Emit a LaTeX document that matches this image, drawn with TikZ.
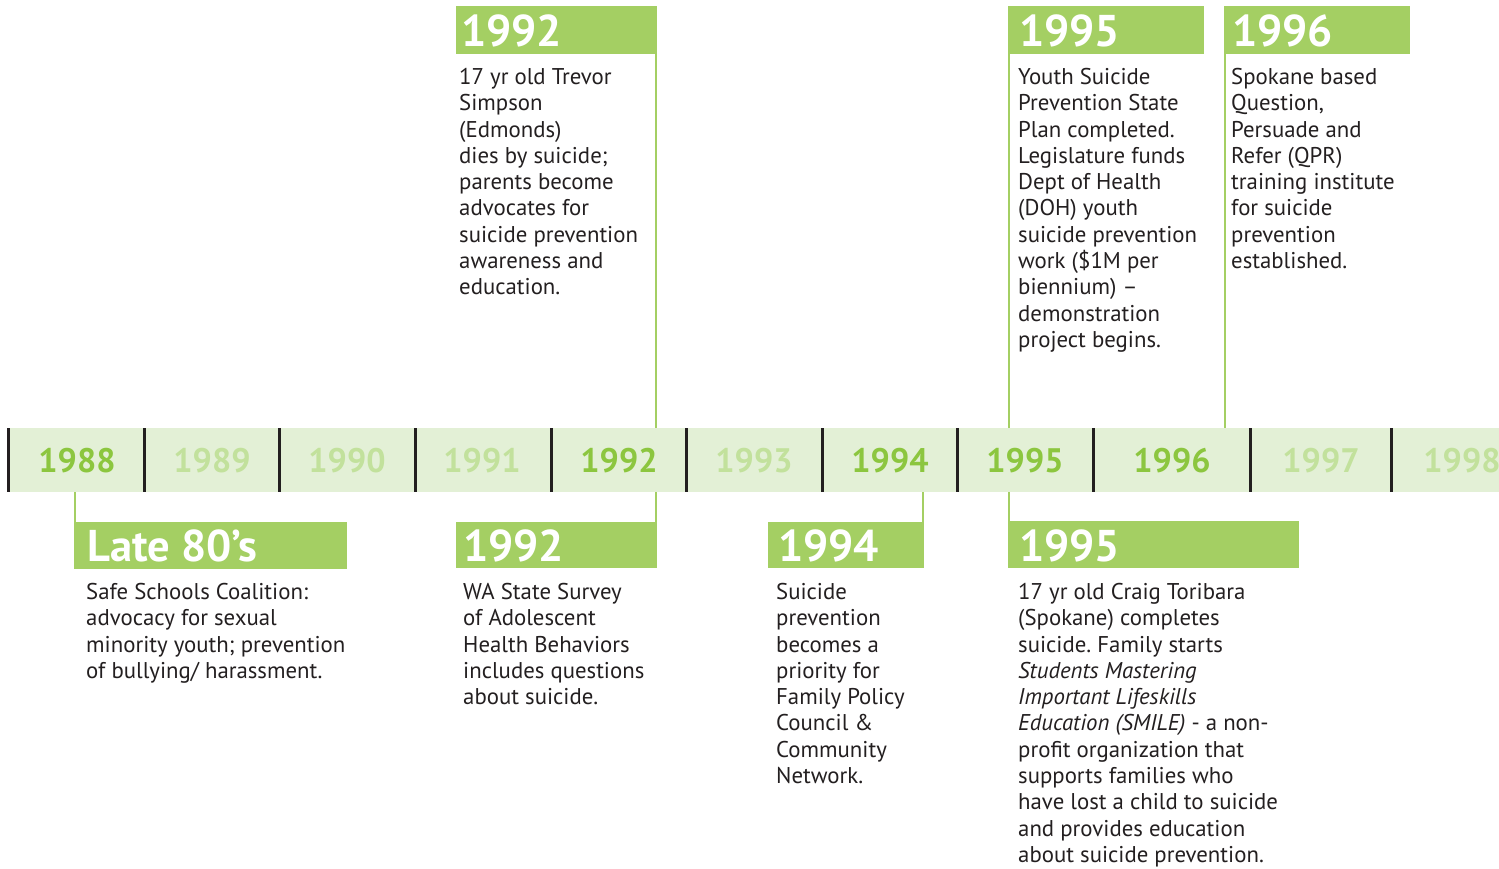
\documentclass[tikz,border=0pt]{standalone}
\usepackage{fontspec}
\setmainfont{PT Sans}
\frenchspacing
\definecolor{barfill}{HTML}{E3F0D6}
\definecolor{hgreen}{HTML}{A4CF63}
\definecolor{yon}{HTML}{8CC63F}
\definecolor{yoff}{HTML}{C2E19C}
\definecolor{ink}{HTML}{231F20}
\tikzset{
  hbox/.style={fill=hgreen, draw=none, anchor=north west, inner sep=0pt},
  htext/.style={text=white, font=\fontsize{44.5}{44.5}\selectfont\bfseries, anchor=west, inner sep=0pt},
  body/.style={text=ink, font=\fontsize{22.8}{26.3}\selectfont, anchor=north west, inner sep=0pt, align=left},
  yrlab/.style={font=\fontsize{34}{34}\selectfont\bfseries, inner sep=0pt},
  on/.style={yrlab, text=yon},
  off/.style={yrlab, text=yoff},
  sep/.style={draw=ink, line width=3pt},
  conn/.style={draw=hgreen, line width=2pt},
}
\begin{document}
\begin{tikzpicture}[x=1pt,y=-1pt]
\useasboundingbox (0,0) rectangle (1499,868);
% bar
\node[fill=barfill, draw=none, anchor=north west, inner sep=0pt, minimum width=1491, minimum height=64] (bar) at (8,428) {};
\foreach \x in {8,144,279,415,551,686,822,957,1093,1250,1391}
  \draw[sep] (\x,428) -- (\x,492);
\node[on]  (c1988) at (77,461) {1988};
\node[off] (c1989) at (212,461) {1989};
\node[off] (c1990) at (347,461) {1990};
\node[off] (c1991) at (482,461) {1991};
\node[on]  (c1992) at (619,461) {1992};
\node[off] (c1993) at (754,461) {1993};
\node[on]  (c1994) at (890,461) {1994};
\node[on]  (c1995) at (1025,461) {1995};
\node[on]  (c1996) at (1172,461) {1996};
\node[off] (c1997) at (1321,461) {1997};
\node[off] (c1998) at (1462,461) {1998};
% header boxes top
\node[hbox, minimum width=201, minimum height=48] (h92a) at (456,6) {};
\node[htext] (t92a) at (461,31) {1992};
\node[hbox, minimum width=196, minimum height=48] (h95a) at (1008,6) {};
\node[htext] (t95a) at (1019,31) {1995};
\node[hbox, minimum width=186, minimum height=48] (h96a) at (1224,6) {};
\node[htext] (t96a) at (1232,31) {1996};
% header boxes bottom
\node[hbox, minimum width=273, minimum height=47] (hlate) at (74,522) {};
\node[htext] (tlate) at (87,546) {Late 80’s};
\node[hbox, minimum width=201, minimum height=46] (h92b) at (456,522) {};
\node[htext] (t92b) at (463,546) {1992};
\node[hbox, minimum width=156, minimum height=46] (h94) at (768,522) {};
\node[htext] (t94) at (778,546) {1994};
\node[hbox, minimum width=291, minimum height=47] (h95b) at (1008,521) {};
\node[htext] (t95b) at (1019,546) {1995};
% connectors
\draw[conn] ([xshift=-1]h92a.south east) -- ([xshift=-1]h92a.south east |- bar.north);
\draw[conn] ([xshift=1]h95a.south west) -- ([xshift=1]h95a.south west |- bar.north);
\draw[conn] ([xshift=1]h96a.south west) -- ([xshift=1]h96a.south west |- bar.north);
\draw[conn] ([xshift=1]hlate.north west) -- ([xshift=1]hlate.north west |- bar.south);
\draw[conn] ([xshift=-1]h92b.north east) -- ([xshift=-1]h92b.north east |- bar.south);
\draw[conn] ([xshift=-1]h94.north east) -- ([xshift=-1]h94.north east |- bar.south);
\draw[conn] ([xshift=1]h95b.north west) -- ([xshift=1]h95b.north west |- bar.south);
% body texts
\node[body] (b92a) at (459,68) {17 yr old Trevor\\Simpson\\(Edmonds)\\dies by suicide;\\parents become\\advocates for\\suicide prevention\\awareness and\\education.};
\node[body] (b95a) at (1018,68) {Youth Suicide\\Prevention State\\Plan completed.\\Legislature funds\\Dept of Health\\(DOH) youth\\suicide prevention\\work (\$1M per\\biennium) –\\demonstration\\project begins.};
\node[body] (b96a) at (1231,68) {Spokane based\\Question,\\Persuade and\\Refer (QPR)\\training institute\\for suicide\\prevention\\established.};
\node[body] (blate) at (86,583) {Safe Schools Coalition:\\advocacy for sexual\\minority youth; prevention\\of bullying/ harassment.};
\node[body] (b92b) at (463,583) {WA State Survey\\of Adolescent\\Health Behaviors\\includes questions\\about suicide.};
\node[body] (b94) at (776,583) {Suicide\\prevention\\becomes a\\priority for\\Family Policy\\Council \&\\Community\\Network.};
\node[body] (b95b) at (1018,583) {17 yr old Craig Toribara\\(Spokane) completes\\suicide. Family starts\\\textit{Students Mastering}\\\textit{Important Lifeskills}\\\textit{Education (SMILE)} - a non-\\profit organization that\\supports families who\\have lost a child to suicide\\and provides education\\about suicide prevention.};
\end{tikzpicture}
\end{document}
